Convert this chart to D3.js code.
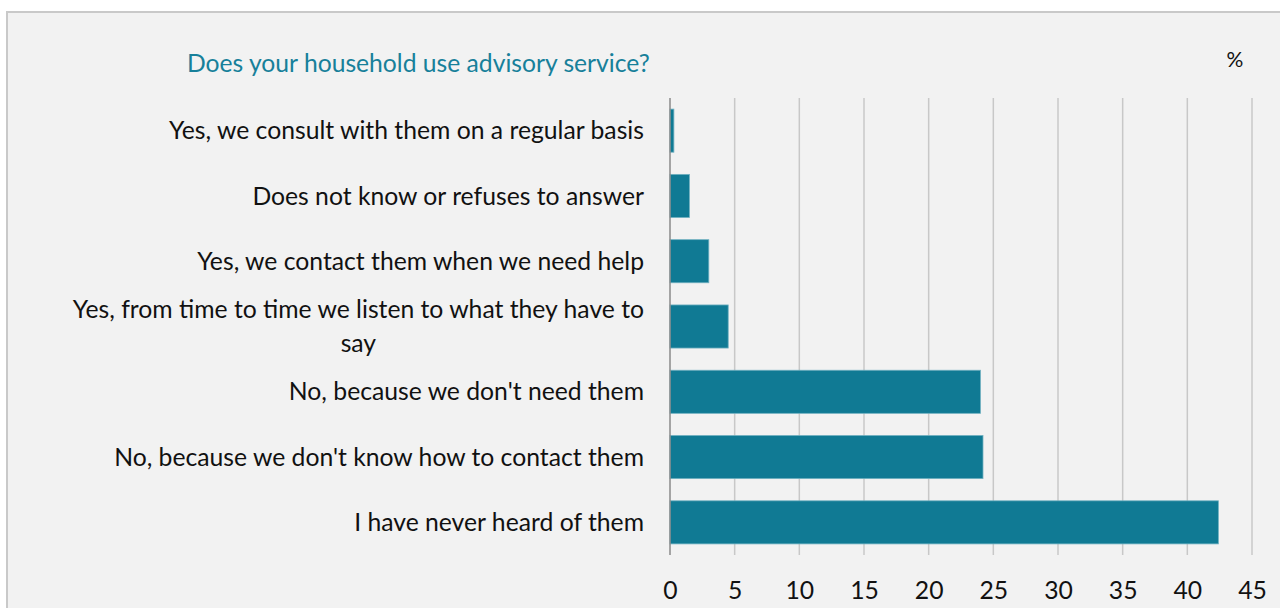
<!DOCTYPE html>
<html>
<head>
<meta charset="utf-8">
<script src="https://cdn.jsdelivr.net/npm/d3@7"></script>
<style>
html,body{margin:0;padding:0;background:#fff;}
svg{display:block;}
</style>
</head>
<body>
<svg id="chart" width="1280" height="608"></svg>
<script>
const title = "Does your household use advisory service?";
const unitLabel = "%";
const categories = [
  "Yes, we consult with them on a regular basis",
  "Does not know or refuses to answer",
  "Yes, we contact them when we need help",
  "Yes, from time to time we listen to what they have to say",
  "No, because we don't need them",
  "No, because we don't know how to contact them",
  "I have never heard of them"
];
const values = [0.3, 1.5, 3.0, 4.5, 24.0, 24.2, 42.4];
const xTicks = [0, 5, 10, 15, 20, 25, 30, 35, 40, 45];

const FONT = "Lato, 'Open Sans', sans-serif";
const svg = d3.select("#chart");

// calibrate font size so text widths match the reference
function measure(txt, size) {
  const t = svg.append("text").attr("font-family", FONT).attr("font-size", size).text(txt);
  const w = t.node().getComputedTextLength();
  t.remove();
  return w;
}
const labelSize = 24 * 530 / measure("No, because we don't know how to contact them", 24);
const titleSize = 24 * 463 / measure(title, 24);

// background & frame
svg.append("rect").attr("x", 7).attr("y", 12).attr("width", 1300).attr("height", 620)
  .attr("fill", "#f2f2f2").attr("stroke", "#c9c9c9").attr("stroke-width", 2);

const x = d3.scaleLinear().domain([0, 45]).range([670, 1252]);
const y = d3.scaleBand().domain(categories).range([98, 555]).paddingInner(0.34).paddingOuter(0.17);

// gridlines
svg.append("g").selectAll("line").data(xTicks.filter(d => d > 0)).join("line")
  .attr("x1", d => x(d)).attr("x2", d => x(d))
  .attr("y1", 98).attr("y2", 555)
  .attr("stroke", "#c8c8c8").attr("stroke-width", 1.5);

// bars
svg.append("g").selectAll("rect").data(values).join("rect")
  .attr("x", x(0))
  .attr("y", (d, i) => y(categories[i]))
  .attr("width", d => x(d) - x(0))
  .attr("height", y.bandwidth())
  .attr("fill", "#107a94")
  .attr("stroke", "#6fb0c0").attr("stroke-width", 0.8);

// vertical axis line
svg.append("line").attr("x1", x(0)).attr("x2", x(0)).attr("y1", 98).attr("y2", 555)
  .attr("stroke", "#8a8a8a").attr("stroke-width", 1.5);

// x tick labels
const xAxis = d3.axisBottom(x).tickValues(xTicks).tickSize(0).tickPadding(0);
const gx = svg.append("g").attr("transform", "translate(0,590)").call(xAxis);
gx.select(".domain").remove();
gx.selectAll("text").attr("font-family", FONT).attr("font-size", labelSize)
  .attr("fill", "#111").attr("dy", "0.35em").attr("y", 0);

// category labels with wrapping, centred block right-aligned
const maxW = 585;
const labelRight = 644;
const lineH = labelSize * 1.4;
categories.forEach(cat => {
  const words = cat.split(" ");
  const lines = [];
  let cur = [];
  words.forEach(w => {
    const test = cur.concat([w]).join(" ");
    if (cur.length && measure(test, labelSize) > maxW) { lines.push(cur.join(" ")); cur = [w]; }
    else cur.push(w);
  });
  lines.push(cur.join(" "));
  const widths = lines.map(l => measure(l, labelSize));
  const blockW = d3.max(widths);
  const cx = labelRight - blockW / 2;
  const cy = y(cat) + y.bandwidth() / 2;
  const t = svg.append("text").attr("font-family", FONT).attr("font-size", labelSize)
    .attr("fill", "#111").attr("text-anchor", lines.length > 1 ? "middle" : "end");
  lines.forEach((l, i) => {
    t.append("tspan")
      .attr("x", lines.length > 1 ? cx : labelRight)
      .attr("y", cy + (i - (lines.length - 1) / 2) * lineH)
      .attr("dy", "0.35em").text(l);
  });
});

// title
svg.append("text").attr("x", 187).attr("y", 63).attr("dy", "0.35em")
  .attr("font-family", FONT).attr("font-size", titleSize)
  .attr("fill", "#17809a").text(title);

// unit label
svg.append("text").attr("x", 1235).attr("y", 60).attr("dy", "0.35em").attr("text-anchor", "middle")
  .attr("font-family", FONT).attr("font-size", labelSize * 0.85)
  .attr("fill", "#111").text(unitLabel);
</script>
</body>
</html>
